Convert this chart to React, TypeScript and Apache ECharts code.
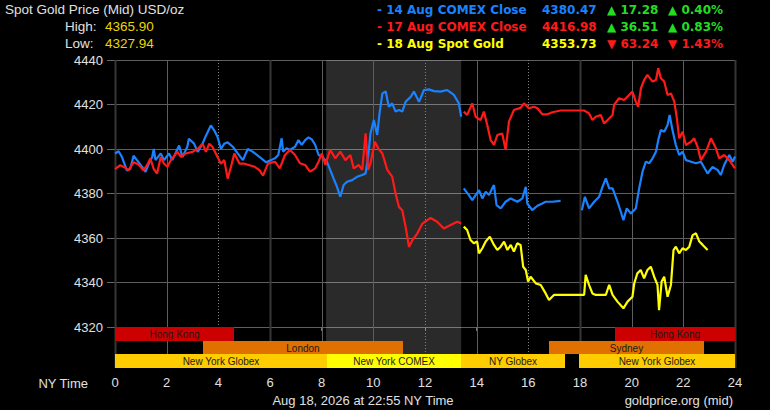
import React, { useEffect, useRef } from "react";
import * as echarts from "echarts";

const FONT = '"Liberation Sans", Arial, sans-serif';
const BOLD_FONT = '"DejaVu Sans", "Liberation Sans", sans-serif';

// ---- axes ----
const hourTicks = [0, 2, 4, 6, 8, 10, 12, 14, 16, 18, 20, 22, 24];
const darkHours = [0, 6, 18, 24];
const dottedHours = [4, 12, 16];
const priceMin = 4320;
const priceMax = 4440;
const priceStep = 20;
const comexOpen = 8.17;
const comexClose = 13.4;

// ---- 14 Aug COMEX close (blue) ----
const blueHours = [
  0, 0.14, 0.27, 0.46, 0.59, 0.72, 0.85, 1.05, 1.18, 1.31, 1.44, 1.5, 1.57, 1.77, 1.9, 2.09, 2.22, 2.48, 2.61, 2.8,
  2.86, 3.06, 3.2, 3.39, 3.52, 3.71, 3.84, 3.97, 4.1, 4.23, 4.36, 4.56, 4.75, 4.95, 5.14, 5.34, 5.6, 5.85, 6.04, 6.19,
  6.32, 6.45, 6.51, 6.64, 6.77, 6.97, 7.1, 7.23, 7.36, 7.49, 7.62, 7.75, 7.88, 8.01, 8.2, 8.33, 8.46, 8.59, 8.72, 8.85,
  8.98, 9.18, 9.37, 9.57, 9.7, 9.8, 9.89, 10.02, 10.15, 10.24, 10.35, 10.48, 10.6, 10.73, 10.86, 10.99, 11.12, 11.25,
  11.45, 11.57, 11.77, 11.96, 12.15, 12.35, 12.6, 12.86, 13.12, 13.31, 13.4, 13.45,
  13.5, 13.7, 13.83, 13.96, 14.09, 14.22, 14.35, 14.48, 14.6, 14.67, 14.77, 14.93, 15.12, 15.32, 15.58, 15.77, 15.9,
  15.96, 16.15, 16.35, 16.54, 16.67, 16.93, 17.25, 17.6,
  18.07, 18.19, 18.35, 18.55, 18.74, 18.87, 19.0, 19.13, 19.26, 19.45, 19.58, 19.68, 19.81, 19.97, 20.16, 20.29, 20.42,
  20.55, 20.68, 20.81, 20.94, 21.03, 21.13, 21.26, 21.39, 21.47, 21.58, 21.71, 21.84, 21.97, 22.1, 22.3, 22.49, 22.68,
  22.94, 23.13, 23.33, 23.45, 23.58, 23.78, 23.91, 24,
];
const blueValues = [
  4397.9, 4399, 4396.4, 4390.4, 4391, 4397, 4395, 4392, 4389.7, 4393.4, 4396.4, 4400, 4395, 4398, 4395, 4398, 4395,
  4401.6, 4396.4, 4401, 4404.6, 4402.4, 4398.7, 4402.4, 4406, 4410.6, 4408.4, 4405.4, 4400, 4402.4, 4403, 4401, 4398,
  4395, 4400, 4398.7, 4396.4, 4394, 4395, 4395.8, 4397.3, 4404.8, 4398.8, 4400.3, 4399.6, 4401, 4404, 4401.8, 4404,
  4405.2, 4404.3, 4401.8, 4397.3, 4396.6, 4394.3, 4390.6, 4386.8, 4383.1, 4378.6, 4383.8, 4385.3, 4386, 4387.5,
  4388.3, 4389, 4396.6, 4407, 4413, 4406.3, 4416, 4425, 4425.8, 4419, 4420.5, 4416.8, 4417.5, 4416.8, 4421.2, 4423.5,
  4425.8, 4421.2, 4426.5, 4426.8, 4426, 4425.8, 4426.5, 4424.3, 4420.5, 4414.5, null,
  4382.3, 4379.3, 4377, 4379.3, 4381.5, 4377.8, 4380.8, 4379.3, 4382.3, 4383.8, 4374.8, 4373.3, 4376.3, 4377.8,
  4376.3, 4377.8, 4383, 4375.5, 4372.5, 4374.5, 4375.5, 4376.3, 4376.3, 4376.7, null,
  4372.5, 4378.5, 4373.3, 4376.3, 4378.5, 4383, 4386.8, 4382.3, 4382.3, 4376.3, 4371.8, 4368, 4373.3, 4371, 4373.3,
  4382.3, 4389.8, 4394.3, 4393.6, 4395.8, 4398.8, 4404, 4408.5, 4407.8, 4410.8, 4415.3, 4408.5, 4401.8, 4397.3,
  4398.8, 4395, 4394.3, 4393.6, 4394.3, 4389, 4392, 4390.5, 4388.3, 4392.8, 4397.3, 4394.3, 4396.6,
];

// ---- 17 Aug COMEX close (red) ----
const redHours = [
  0, 0.2, 0.4, 0.52, 0.72, 0.91, 1.1, 1.24, 1.37, 1.5, 1.63, 1.77, 1.9, 2.03, 2.16, 2.42, 2.55, 2.74, 3.0, 3.2, 3.39,
  3.52, 3.65, 3.77, 3.97, 4.1, 4.23, 4.36, 4.49, 4.62, 4.82, 5.01, 5.21, 5.41, 5.6, 5.73, 5.92, 6.19, 6.38, 6.58, 6.77,
  6.97, 7.16, 7.36, 7.55, 7.75, 7.88, 8.01, 8.14, 8.33, 8.53, 8.72, 8.92, 9.11, 9.24, 9.44, 9.57, 9.7, 9.8, 9.89,
  10.06, 10.19, 10.35, 10.54, 10.73, 10.86, 10.99, 11.12, 11.25, 11.38, 11.51, 11.7, 11.9, 12.09, 12.22, 12.47, 12.73,
  12.99, 13.25, 13.4, 13.45,
  13.5, 13.63, 13.83, 13.96, 14.15, 14.28, 14.41, 14.54, 14.67, 14.8, 14.99, 15.12, 15.25, 15.44, 15.7, 15.83, 16.02,
  16.22, 16.35, 16.54, 16.74, 16.93, 17.25, 17.64, 18.16, 18.35, 18.48, 18.61, 18.8, 18.93, 19.07, 19.26, 19.32,
  19.51, 19.71, 19.9, 20.03, 20.16, 20.25, 20.36, 20.48, 20.61, 20.81, 20.94, 21.03, 21.13, 21.26, 21.39, 21.52,
  21.65, 21.75, 21.84, 21.97, 22.1, 22.3, 22.42, 22.55, 22.68, 22.88, 23.07, 23.26, 23.39, 23.58, 23.78, 24,
];
const redValues = [
  4391, 4392.7, 4391.6, 4390.4, 4394, 4393, 4390.4, 4392.7, 4395.7, 4391, 4389, 4396.4, 4393.4, 4392, 4395, 4398.7,
  4396.4, 4398, 4398.7, 4400, 4402.4, 4398.7, 4402.4, 4401, 4396.4, 4393.4, 4395, 4386.7, 4392, 4398, 4393.4, 4393.4,
  4392.7, 4392, 4390.4, 4388, 4393.4, 4394.3, 4391.3, 4397.3, 4399.6, 4397.3, 4393.6, 4392.8, 4389.8, 4391.3, 4394.3,
  4398, 4392.8, 4399.6, 4395.8, 4398.8, 4395, 4397.3, 4391.3, 4392.8, 4390.6, 4407, 4390.6, 4393.6, 4403.3, 4400.3,
  4398, 4390.6, 4387.6, 4380, 4374, 4372.5, 4365, 4356, 4359, 4362, 4366.5, 4368, 4369, 4367.3, 4364.3, 4365.8,
  4367.3, 4366.5, null,
  4416.8, 4415.3, 4420.5, 4414.5, 4413, 4416.8, 4410.8, 4404, 4401.8, 4406.3, 4407, 4399.6, 4412.3, 4417.5, 4418.5,
  4420.5, 4418.3, 4419, 4418.3, 4415.6, 4415.6, 4416.5, 4417.3, 4417.3, 4417.3, 4416, 4413, 4414.5, 4415.3, 4411.5,
  4413, 4415.3, 4419.8, 4422.8, 4422, 4424.3, 4425.8, 4421.3, 4419, 4427.3, 4431, 4433.3, 4430.3, 4431, 4436.3,
  4431.8, 4430.3, 4424.3, 4425, 4421.3, 4413.8, 4404.8, 4407.8, 4401.8, 4403.3, 4404.8, 4401, 4395, 4398.8, 4404.8,
  4400.3, 4395.8, 4397.3, 4395, 4391.3,
];

// ---- 18 Aug spot gold (yellow) ----
const yellowHours = [
  13.5, 13.63, 13.76, 13.89, 14.02, 14.09, 14.22, 14.35, 14.51, 14.67, 14.8, 14.93, 15.06, 15.19, 15.32, 15.44, 15.57,
  15.7, 15.8, 15.9, 15.99, 16.09, 16.29, 16.48, 16.67, 16.8, 16.99, 17.25, 17.77, 18.16, 18.22, 18.35, 18.48, 18.61,
  18.8, 19.0, 19.13, 19.26, 19.45, 19.68, 19.84, 20.03, 20.1, 20.22, 20.35, 20.48, 20.61, 20.74, 20.87, 21.0, 21.06,
  21.16, 21.26, 21.39, 21.52, 21.62, 21.71, 21.84, 21.97, 22.1, 22.23, 22.36, 22.49, 22.62, 22.75, 22.94,
];
const yellowValues = [
  4365.1, 4363.6, 4359.1, 4357.6, 4358.4, 4353.1, 4355.4, 4358.4, 4360.6, 4356.9, 4354.6, 4356.1, 4358.4, 4354.6,
  4356.9, 4353.9, 4357.6, 4356.9, 4347.1, 4345.6, 4340.4, 4342.6, 4339.6, 4338.9, 4335.1, 4332.1, 4334.4, 4334.4,
  4334.4, 4334.4, 4343.4, 4338.9, 4335.1, 4334.4, 4334.4, 4334.4, 4338.9, 4334.4, 4331.4, 4328.4, 4331.4, 4333.6,
  4339.6, 4344.1, 4345.6, 4341.9, 4345.6, 4347.1, 4342.6, 4338.9, 4327.6, 4340.4, 4342.6, 4333.6, 4338.9, 4354.6,
  4356.1, 4353.1, 4355.4, 4354.6, 4356.1, 4361.3, 4362.1, 4358.4, 4356.9, 4354.6,
];

// ---- trading sessions ----
const sessionNames = ["Hong Kong", "Hong Kong", "London", "Sydney", "New York Globex", "New York COMEX", "NY Globex", "New York Globex"];
const sessionStart = [0, 19.35, 3.4, 16.8, 0, 8.2, 13.4, 17.95];
const sessionEnd = [4.6, 24, 11.16, 22.8, 8.2, 13.4, 17.4, 24];
const sessionRow = [0, 0, 1, 1, 2, 2, 2, 2];
const sessionKind = ["asia", "asia", "europe", "europe", "globex", "comex", "globex", "globex"];
const sessionColor: Record<string, string> = {
  asia: "#cc0000",
  europe: "#e07000",
  globex: "#ffcc00",
  comex: "#ffff00",
};

// ---- header texts ----
const titleText = "Spot Gold Price (Mid) USD/oz";
const highValue = "4365.90";
const lowValue = "4327.94";
const legendLabels = ["- 14 Aug COMEX Close", "- 17 Aug COMEX Close", "- 18 Aug Spot Gold"];
const legendPrices = ["4380.47", "4416.98", "4353.73"];
const legendChanges = ["17.28", "36.51", "63.24"];
const legendPcts = ["0.40%", "0.83%", "1.43%"];
const legendUp = [true, true, false];
const footerDate = "Aug 18, 2026 at 22:55 NY Time";
const footerSource = "goldprice.org (mid)";

const BLUE = "#1a82ff";
const RED = "#ff1a1a";
const YELLOW = "#ffff00";
const GREEN = "#22dd22";

function toData(hours: number[], values: (number | null)[]) {
  return hours.map((h, i) => (values[i] === null ? [h, "-"] : [h, values[i]]));
}

function makeBgRender(yRef: number) {
  return (params: any, api: any) => {
    const cs = params.coordSys;
    const a = api.value(0);
    const b = api.value(1);
    const k = api.value(2);
    const x1 = api.coord([a, yRef])[0];
    const x2 = api.coord([b, yRef])[0];
    if (k === 0) {
      return {
        type: "rect",
        shape: { x: x1, y: cs.y, width: x2 - x1, height: cs.height },
        style: { fill: "rgba(255,255,255,0.165)" },
      };
    }
    const x = Math.round(x1) + 0.5;
    let stroke = "#5e5e5e";
    let lineWidth = 1;
    let lineDash: any = null;
    if (k === 2) {
      stroke = "#363636";
      lineWidth = 2;
    } else if (k === 3) {
      stroke = "#808080";
      lineDash = [1, 2];
    }
    return {
      type: "line",
      shape: { x1: x, y1: cs.y, x2: x, y2: cs.y + cs.height },
      style: { stroke, lineWidth, lineDash },
    };
  };
}

function txt(text: string, x: number, y: number, fill: string, opts: any = {}) {
  const align = opts.align || "left";
  return {
    type: "text",
    x,
    y,
    silent: true,
    style: {
      text,
      fill,
      fontSize: opts.size || 13,
      fontFamily: opts.family || FONT,
      fontWeight: opts.bold ? "bold" : "normal",
      align,
      textAlign: align,
      verticalAlign: "middle",
      textVerticalAlign: "middle",
    },
  };
}

export default function App() {
  const ref = useRef<HTMLDivElement>(null);

  useEffect(() => {
    document.body.style.margin = "0";
    document.body.style.background = "#000";
    const chart = echarts.init(ref.current!, null, { renderer: "svg" });

    const bgData = [[comexOpen, comexClose, 0]].concat(
      hourTicks.map((h) => [h, h, darkHours.includes(h) ? 2 : dottedHours.includes(h) ? 3 : 1])
    );

    const sessionData = sessionNames.map((_, i) => [sessionStart[i], sessionEnd[i], sessionRow[i]]);

    const graphics: any[] = [
      txt(titleText, 5, 9, "#e0e0e0", { size: 13.5 }),
      txt("High:", 65, 26, "#e0e0e0", { size: 13.5 }),
      txt(highValue, 105, 26, "#e8d800", { size: 13.5 }),
      txt("Low:", 65, 43.5, "#e0e0e0", { size: 13.5 }),
      txt(lowValue, 105, 43.5, "#e8d800", { size: 13.5 }),
      txt("NY Time", 88, 383, "#e0e0e0", { align: "right" }),
      txt(footerDate, 363, 400, "#e0e0e0", { align: "center" }),
      txt(footerSource, 733, 400, "#e0e0e0", { align: "right" }),
    ];
    const rowColors = [BLUE, RED, YELLOW];
    const rowY = [10, 27, 43.5];
    legendLabels.forEach((label, i) => {
      const c = rowColors[i];
      const cc = legendUp[i] ? GREEN : RED;
      const arrow = legendUp[i] ? "\u25B2 " : "\u25BC ";
      const o = { bold: true, size: 12, family: BOLD_FONT };
      graphics.push(txt(label, 377, rowY[i], c, o));
      graphics.push(txt(legendPrices[i], 542, rowY[i], c, o));
      graphics.push(txt(arrow + legendChanges[i], 607, rowY[i], cc, o));
      graphics.push(txt(arrow + legendPcts[i], 668, rowY[i], cc, o));
    });

    const option: any = {
      animation: false,
      backgroundColor: "#000",
      grid: [
        { left: 115, top: 60, width: 620, height: 267 },
        { left: 115, top: 327, width: 620, height: 41 },
      ],
      xAxis: [
        {
          gridIndex: 0,
          type: "value",
          min: 0,
          max: 24,
          interval: 2,
          axisLabel: { show: false },
          axisLine: { show: false },
          axisTick: { show: false },
          splitLine: { show: false },
        },
        {
          gridIndex: 1,
          type: "value",
          min: 0,
          max: 24,
          interval: 2,
          axisLabel: { color: "#e0e0e0", fontSize: 13, fontFamily: FONT, margin: 8 },
          axisLine: { show: false },
          axisTick: { show: true, length: 4, lineStyle: { color: "#777" } },
          splitLine: { show: false },
        },
      ],
      yAxis: [
        {
          gridIndex: 0,
          type: "value",
          min: priceMin,
          max: priceMax,
          interval: priceStep,
          axisLabel: {
            color: "#e0e0e0",
            fontSize: 13,
            fontFamily: FONT,
            margin: 12,
            formatter: (v: number) => String(v),
          },
          axisLine: { show: false },
          axisTick: { show: true, length: 8, lineStyle: { color: "#666" } },
          splitLine: { show: true, lineStyle: { color: "#5e5e5e", width: 1 } },
        },
        {
          gridIndex: 1,
          type: "value",
          min: 0,
          max: 3,
          inverse: true,
          show: false,
          splitLine: { show: false },
        },
      ],
      graphic: { elements: graphics },
      series: [
        {
          type: "custom",
          xAxisIndex: 0,
          yAxisIndex: 0,
          silent: true,
          z: 1,
          encode: { x: [0, 1] },
          renderItem: makeBgRender(4380),
          data: bgData,
        },
        {
          type: "custom",
          xAxisIndex: 1,
          yAxisIndex: 1,
          silent: true,
          z: 1,
          encode: { x: [0, 1] },
          renderItem: makeBgRender(1),
          data: bgData,
        },
        {
          type: "custom",
          xAxisIndex: 1,
          yAxisIndex: 1,
          silent: true,
          z: 2,
          encode: { x: [0, 1], y: 2 },
          renderItem: (params: any, api: any) => {
            const i = params.dataIndex;
            const p1 = api.coord([api.value(0), api.value(2)]);
            const p2 = api.coord([api.value(1), api.value(2) + 1]);
            const x = Math.round(p1[0]);
            const w = Math.round(p2[0]) - x;
            const y = Math.round(p1[1]);
            const h = Math.round(p2[1]) - y;
            return {
              type: "group",
              children: [
                {
                  type: "rect",
                  shape: { x, y, width: w, height: h },
                  style: { fill: sessionColor[sessionKind[i]] },
                },
                {
                  type: "text",
                  x: x + w / 2,
                  y: y + h / 2 + 0.5,
                  style: {
                    text: sessionNames[i],
                    fill: "#1a1a1a",
                    fontSize: 10,
                    fontFamily: FONT,
                    align: "center",
                    textAlign: "center",
                    verticalAlign: "middle",
                    textVerticalAlign: "middle",
                  },
                },
              ],
            };
          },
          data: sessionData,
        },
        {
          type: "line",
          name: "14 Aug COMEX Close",
          xAxisIndex: 0,
          yAxisIndex: 0,
          z: 3,
          showSymbol: false,
          symbol: "none",
          connectNulls: false,
          lineStyle: { color: BLUE, width: 2.2 },
          data: toData(blueHours, blueValues),
        },
        {
          type: "line",
          name: "17 Aug COMEX Close",
          xAxisIndex: 0,
          yAxisIndex: 0,
          z: 4,
          showSymbol: false,
          symbol: "none",
          connectNulls: false,
          lineStyle: { color: RED, width: 2.2 },
          data: toData(redHours, redValues),
        },
        {
          type: "line",
          name: "18 Aug Spot Gold",
          xAxisIndex: 0,
          yAxisIndex: 0,
          z: 5,
          showSymbol: false,
          symbol: "none",
          lineStyle: { color: YELLOW, width: 2.2 },
          data: toData(yellowHours, yellowValues),
        },
      ],
    };

    chart.setOption(option);
    return () => chart.dispose();
  }, []);

  return <div ref={ref} style={{ width: 770, height: 410, background: "#000" }} />;
}
